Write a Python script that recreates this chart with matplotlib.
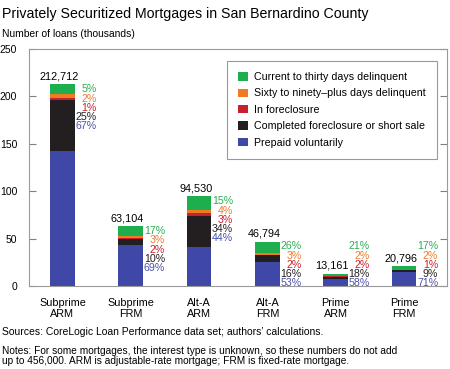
import numpy as np
import matplotlib
matplotlib.use("Agg")
import matplotlib.pyplot as plt

plt.rcParams['font.family'] = ['Liberation Sans', 'DejaVu Sans']

# Data
categories = ["Subprime\nARM", "Subprime\nFRM", "Alt-A\nARM", "Alt-A\nFRM", "Prime\nARM", "Prime\nFRM"]
totals = [212712, 63104, 94530, 46794, 13161, 20796]
total_labels = ["212,712", "63,104", "94,530", "46,794", "13,161", "20,796"]

# shares in percent, bottom to top of stack
prepaid = [67, 69, 44, 53, 58, 71]
completed = [25, 10, 34, 16, 18, 9]
foreclosure = [1, 2, 3, 2, 2, 1]
sixty_ninety = [2, 3, 4, 3, 2, 2]
current = [5, 17, 15, 26, 21, 17]

series_names = ["Prepaid voluntarily", "Completed foreclosure or short sale",
                "In foreclosure", "Sixty to ninety\u2013plus days delinquent",
                "Current to thirty days delinquent"]
series = [prepaid, completed, foreclosure, sixty_ninety, current]
bar_colors = ["#3f48a6", "#231f20", "#c8202e", "#f07c22", "#1fae4e"]
text_colors = ["#4a52a8", "#231f20", "#c8202e", "#ee7b2a", "#2aae52"]

fig = plt.figure(figsize=(4.5, 3.69), dpi=100)
ax = fig.add_axes([29/450, 1 - 286/369, 418/450, 237/369])

x = np.arange(len(categories))
tot_k = np.array(totals) / 1000.0
width = 0.36
bottom = np.zeros(len(x))
bars = []
for vals, col, name in zip(series, bar_colors, series_names):
    h = tot_k * np.array(vals) / np.sum(series, axis=0)
    b = ax.bar(x, h, width, bottom=bottom, color=col, label=name)
    bars.append(b)
    bottom += h

# total labels above bars
for i in range(len(x)):
    ax.text(x[i] - 0.05, tot_k[i] + 3, total_labels[i], ha="center", va="bottom", fontsize=7.8)

# percentage labels to the right of each bar, top to bottom
line_h = 9.7  # data units per text line
for i in range(len(x)):
    top = max(tot_k[i], 47)
    for j, k in enumerate(range(4, -1, -1)):
        ax.text(x[i] + 0.5, top - j * line_h, "%d%%" % series[k][i], ha="right", va="top",
                fontsize=7.7, color=text_colors[k])

ax.set_xlim(-0.49, 5.63)
ax.set_ylim(0, 250)
ax.set_yticks([0, 50, 100, 150, 200, 250])
ax.set_xticks(x)
ax.set_xticklabels(categories, fontsize=7.8, linespacing=1.05)
ax.tick_params(axis="x", length=0, pad=9)
ax.tick_params(axis="y", direction="in", length=5, labelsize=7.5, pad=8.5, right=True, color="#808080")
for s in ax.spines.values():
    s.set_color("#9a9a9a")
    s.set_linewidth(0.8)

handles = bars[::-1]
leg = ax.legend(handles, series_names[::-1], loc="upper right", bbox_to_anchor=(0.976, 0.95),
                fontsize=7.7, frameon=True, fancybox=False, edgecolor="#808080",
                handlelength=0.85, handleheight=0.85, handletextpad=0.6, labelspacing=0.6,
                borderpad=1.05, borderaxespad=0)
leg.get_frame().set_linewidth(0.8)

fig.text(2/450, 1 - 14/369, "Privately Securitized Mortgages in San Bernardino County",
         fontsize=10.2, va="center", ha="left")
fig.text(2/450, 1 - 34/369, "Number of loans (thousands)", fontsize=7.4, va="center", ha="left")
fig.text(2/450, 1 - 332/369, "Sources: CoreLogic Loan Performance data set; authors\u2019 calculations.",
         fontsize=7.5, va="center", ha="left")
fig.text(2/450, 1 - 356/369,
         "Notes: For some mortgages, the interest type is unknown, so these numbers do not add\n"
         "up to 456,000. ARM is adjustable-rate mortgage; FRM is fixed-rate mortgage.",
         fontsize=7.3, va="center", ha="left", linespacing=1.05)

fig.savefig("out.png", dpi=100)
